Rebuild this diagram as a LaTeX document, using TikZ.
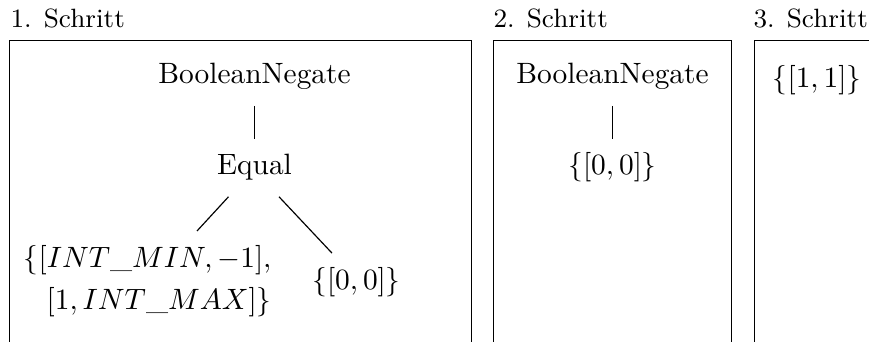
\documentclass[tikz,border=0pt]{standalone}
\usetikzlibrary{calc}
\begin{document}
\begin{tikzpicture}[x=0.34pt,y=-0.34pt,
  panel/.style={draw,line width=0.4pt},
  steplabel/.style={anchor=base west,inner sep=0pt,font=\small},
  tnode/.style={anchor=base,inner xsep=3.33pt,inner ysep=5.2pt,text height=7pt,text depth=2pt},
  conn/.style={line width=0.4pt}]
  \useasboundingbox (0,0) rectangle (869,342);
  \clip (0,0) rectangle (869,342);

  % panels (open towards the bottom / right edge)
  \draw[panel] (9.3,40.3) rectangle (471.7,420);
  \draw[panel] (493.3,40.3) rectangle (731.7,420);
  \draw[panel] (754.3,40.3) rectangle (1000,420);

  \node[steplabel] (s1) at (10,28) {1. Schritt};
  \node[steplabel] (s2) at (493,28) {2. Schritt};
  \node[steplabel] (s3) at (753,28) {3. Schritt};

  % step 1
  \node[tnode] (neg1) at (254.5,84) {BooleanNegate};
  \node[tnode] (eq) at (254.5,175) {Equal};
  \node[anchor=north east,inner sep=0pt,align=right] (lc) at (272,245)
    {$\{[INT\_MIN,-1],$\\[2.3pt]$[1,INT\_MAX]\}$};
  \node[tnode] (rc) at (356.5,289.6) {$\{[0,0]\}$};
  \draw[conn] (neg1) -- (eq);
  \draw[conn] ($(eq.south)+(-26,0)$) -- ($(lc.north east)+(-75,-14)$);
  \draw[conn] ($(eq.south)+(24.5,0)$) -- ($(rc.north)+(-24.5,0)$);

  % step 2
  \node[tnode] (neg2) at (612.5,84) {BooleanNegate};
  \node[tnode] (z2) at (612.5,175) {$\{[0,0]\}$};
  \draw[conn] (neg2) -- (z2);

  % step 3
  \node[tnode] (one3) at (817,88) {$\{[1,1]\}$};
\end{tikzpicture}
\end{document}
